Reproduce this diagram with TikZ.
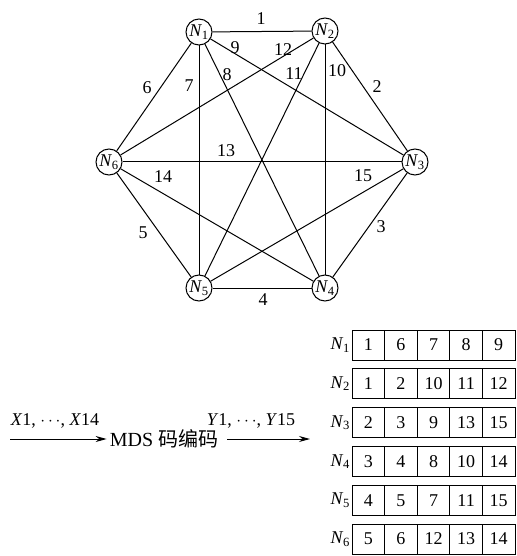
\documentclass[tikz,border=0pt]{standalone}
\usepackage{fontspec}
\setmainfont{Liberation Serif}
\newfontfamily\cjk{Noto Sans CJK SC}
\usetikzlibrary{arrows.meta}
\newcommand{\nd}[1]{\textit{N}\kern-0.5pt\textsubscript{#1}}
\begin{document}
\begin{tikzpicture}[x=1pt,y=-1pt,font=\fontsize{18}{20}\selectfont]
                    \tikzset{
                        vertex/.style={draw, circle, inner sep=0pt, minimum size=26pt, line width=1pt},
                        link/.style={line width=1pt},
                        lbl/.style={inner sep=1pt},
                        cell/.style={draw, line width=1pt, minimum width=32.6pt, minimum height=30pt, inner sep=0pt},
                        arr/.style={line width=1pt, -{Stealth[length=11pt,width=6pt]}}
                    }
                    \useasboundingbox (0,0) rectangle (516,556);
                    % hexagon of storage nodes
                    \draw node[vertex] (n1) at (199,32) {\nd{1}};
                    \draw node[vertex] (n2) at (325,31) {\nd{2}};
                    \draw node[vertex] (n3) at (415,162) {\nd{3}};
                    \draw node[vertex] (n4) at (325,288) {\nd{4}};
                    \draw node[vertex] (n5) at (199,288) {\nd{5}};
                    \draw node[vertex] (n6) at (109,162) {\nd{6}};
                    \foreach \x/\y in {%
                        n1/n2,n2/n3,n3/n4,n4/n5,n5/n6,n6/n1,n1/n5,n1/n4,%
                        n1/n3,n2/n4,n2/n5,n2/n6,n3/n6,n4/n6,n3/n5%
                    }{
                    \draw[link] (\x) -- (\y);
                    }
                    % edge numbers
                    \foreach \t/\px/\py in {%
                        1/261/19, 2/377/87, 3/381/227, 4/263/300, 5/143/233,
                        6/147/88, 7/189/86, 8/227/75, 9/235/48, 10/337/71,
                        11/294/74, 12/283/50, 13/226/151, 14/163/177, 15/363/176%
                    }{
                    \node[lbl] (e\t) at (\px,\py) {\t};
                    }
                    % encoder
                    \coordinate (src) at (10,439);
                    \node[inner xsep=3pt, font=\fontsize{20}{22}\selectfont] (mds) at (164,439) {MDS {\cjk 码编码}};
                    \coordinate (dst) at (310,439);
                    \draw[arr] (src) -- (mds);
                    \draw[arr, shorten <=6pt] (mds) -- (dst);
                    \node (xin) at (55,421) {\textit{X}1, $\cdots$, \textit{X}14};
                    \node (yout) at (251,421) {\textit{Y}1, $\cdots$, \textit{Y}15};
                    % stored blocks
                    \foreach \r/\list in {%
                        1/{1,6,7,8,9}, 2/{1,2,10,11,12}, 3/{2,3,9,13,15},
                        4/{3,4,8,10,14}, 5/{4,5,7,11,15}, 6/{5,6,12,13,14}%
                    }{
                    \node[anchor=east, inner sep=1pt] (r\r) at (351,{345+38.8*(\r-1)}) {\nd{\r}};
                    \foreach \v [count=\c] in \list {
                    \node[cell] (c\r-\c) at ({352+16.3+32.6*(\c-1)},{345+38.8*(\r-1)}) {\v};
                    }
                    }
\end{tikzpicture}
\end{document}
